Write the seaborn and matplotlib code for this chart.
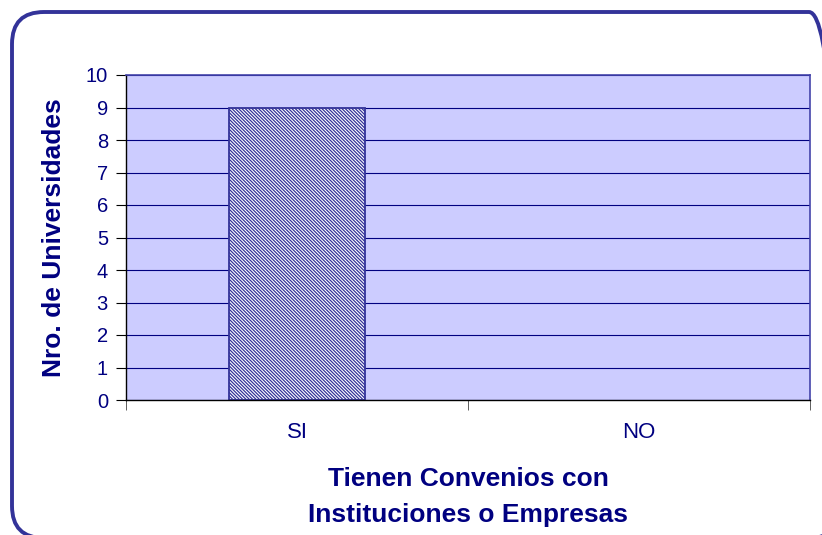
import matplotlib
matplotlib.use("Agg")
import matplotlib.pyplot as plt
import seaborn as sns
import pandas as pd
from matplotlib.patches import FancyBboxPatch
from matplotlib.transforms import IdentityTransform

categories = ["SI", "NO"]
values = [9, 0]
y_ticks = list(range(0, 11))

NAVY = "#000080"
BORDER = "#333399"
PLOT_BG = "#CCCCFF"

sns.set_style("white")
plt.rcParams["font.family"] = ["Liberation Sans", "DejaVu Sans"]
plt.rcParams["hatch.color"] = "#3333aa"
plt.rcParams["hatch.linewidth"] = 0.9


def create_plot(out):
    fig = plt.figure(figsize=(8.22, 5.35), dpi=100)
    ax = fig.add_axes([126 / 822, 135 / 535, 684 / 822, 325 / 535])

    data = pd.DataFrame({"cat": categories, "val": values})
    sns.barplot(data=data, x="cat", y="val", ax=ax, width=0.4,
                color="white", edgecolor=BORDER, linewidth=1.3, saturation=1)
    for p, v in zip(ax.patches, values):
        p.set_hatch("\\" * 10)
        p.set_facecolor("white")
        if v == 0:
            p.set_linewidth(0)

    ax.set_facecolor(PLOT_BG)
    ax.set_xlim(-0.5, 1.5)
    ax.set_ylim(0, 10)
    ax.set_yticks(y_ticks)
    ax.yaxis.grid(True, color=NAVY, linewidth=0.8)
    ax.set_axisbelow(True)

    for side in ["top", "right"]:
        ax.spines[side].set_color("#4444aa")
        ax.spines[side].set_linewidth(1.2)
    for side in ["left", "bottom"]:
        ax.spines[side].set_color("black")
        ax.spines[side].set_linewidth(1.0)

    ax.set_xticks([0, 1])
    ax.set_xticklabels(categories)
    ax.set_xticks([-0.5, 0.5, 1.5], minor=True)
    ax.tick_params(axis="x", which="major", length=0, pad=16,
                   labelsize=16, labelcolor=NAVY)
    ax.tick_params(axis="x", which="minor", length=7, color="#444444",
                   direction="out", bottom=True)
    ax.tick_params(axis="y", length=7, color="black", direction="out",
                   left=True, labelsize=14.5, labelcolor=NAVY, pad=6)

    ax.set_xlabel("Tienen Convenios con\nInstituciones o Empresas",
                  fontsize=19, fontweight="bold", color=NAVY,
                  labelpad=17, linespacing=1.65)
    ax.set_ylabel("Nro. de Universidades", fontsize=19, fontweight="bold",
                  color=NAVY, labelpad=14)

    # rounded chart-area border, right and bottom edges fall just off the canvas
    frame = FancyBboxPatch((12, -3), 829, 526, transform=IdentityTransform(),
                           boxstyle="round,pad=0,rounding_size=32",
                           fill=False, edgecolor=BORDER, linewidth=2.8,
                           clip_on=False)
    fig.patches.append(frame)

    fig.savefig(out, dpi=100)


create_plot("out.png")
